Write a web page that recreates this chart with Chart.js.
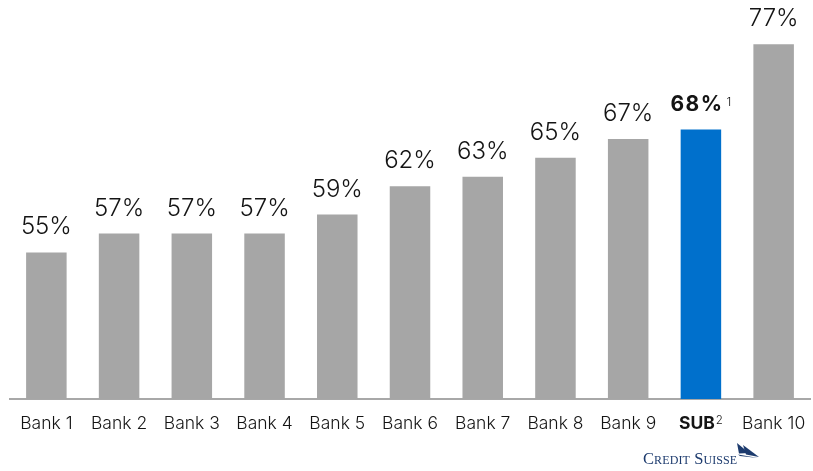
<!DOCTYPE html>
<html>
<head>
<meta charset="utf-8">
<script src="https://cdn.jsdelivr.net/npm/chart.js@4/dist/chart.umd.min.js"></script>
<style>
  html, body { margin: 0; padding: 0; background: #ffffff; }
  #wrap { position: relative; width: 813px; height: 471px; }
  #chart { position: absolute; left: 0; top: 0; }
  #brand { position: absolute; left: 643px; top: 443px; height: 26px; color: #1d3b6e;
           font-family: "Liberation Serif", "DejaVu Serif", serif; font-variant: small-caps;
           font-size: 16.5px; letter-spacing: 0.1px; white-space: nowrap; }
  #brand span { position: absolute; left: 0; top: 7px; line-height: 18px; }
  #brand svg { position: absolute; left: 92px; top: 0; }
</style>
</head>
<body>
<div id="wrap">
  <canvas id="chart" width="813" height="471"></canvas>
  <div id="brand">
    <span>Credit Suisse</span>
    <svg width="26" height="18" viewBox="0 0 26 18">
      <path d="M2 0 L14 10 L4 10.5 Z" fill="#1d3b6e"/>
      <path d="M8 2 L24 14 L11 11.5 Z" fill="#1d3b6e"/>
      <path d="M3 11.5 L23 15 L5 13 Z" fill="#1d3b6e"/>
    </svg>
  </div>
</div>
<script>
// Cost/income ratio by bank
const categories = ['Bank 1', 'Bank 2', 'Bank 3', 'Bank 4', 'Bank 5', 'Bank 6', 'Bank 7', 'Bank 8', 'Bank 9', 'SUB', 'Bank 10'];
const ratios = [55, 57, 57, 57, 59, 62, 63, 65, 67, 68, 77];
const valueNotes = ['', '', '', '', '', '', '', '', '', '1', ''];
const categoryNotes = ['', '', '', '', '', '', '', '', '', '2', ''];
const highlightIndex = 9;

const GREY = '#a6a6a6';
const BLUE = '#0070cc';
const TEXT = '#141414';
const FONT = 'Inter, "Liberation Sans", Arial, sans-serif';

// Draws the percentage above each bar and the category names under the axis,
// with bold text and footnote superscripts for the highlighted bank.
const barText = {
  id: 'barText',
  afterDatasetsDraw(chart) {
    const ctx = chart.ctx;
    const meta = chart.getDatasetMeta(0);
    const xScale = chart.scales.x;
    ctx.save();
    ctx.fillStyle = TEXT;
    ctx.textBaseline = 'alphabetic';
    ctx.textAlign = 'left';
    meta.data.forEach((bar, i) => {
      const hl = i === highlightIndex;
      const main = ratios[i] + '%';
      const mainFont = hl ? '700 21px ' + FONT : '300 24px ' + FONT;
      const spacing = hl ? '1.5px' : '0px';
      const noteFont = '300 12px ' + FONT;
      ctx.letterSpacing = spacing;
      ctx.font = mainFont;
      const wMain = ctx.measureText(main).width;
      ctx.letterSpacing = '0px';
      let wNote = 0;
      if (valueNotes[i]) { ctx.font = noteFont; wNote = ctx.measureText(valueNotes[i]).width + 3; }
      const left = bar.x - (wMain + wNote) / 2;
      const base = bar.y - 18;
      ctx.letterSpacing = spacing;
      ctx.font = mainFont;
      ctx.fillText(main, left, base);
      ctx.letterSpacing = '0px';
      if (valueNotes[i]) {
        ctx.font = noteFont;
        ctx.fillText(valueNotes[i], left + wMain + 3, base - 5.5);
      }

      // category label
      const cx = xScale.getPixelForValue(i);
      const cy = 428.5;
      const catFont = hl ? '700 17.5px ' + FONT : '300 17.5px ' + FONT;
      ctx.font = catFont;
      const wCat = ctx.measureText(categories[i]).width;
      let wCatNote = 0;
      if (categoryNotes[i]) { ctx.font = '300 11.5px ' + FONT; wCatNote = ctx.measureText(categoryNotes[i]).width + 1; }
      const cl = cx - (wCat + wCatNote) / 2;
      ctx.font = catFont;
      ctx.fillText(categories[i], cl, cy);
      if (categoryNotes[i]) {
        ctx.font = '300 11.5px ' + FONT;
        ctx.fillText(categoryNotes[i], cl + wCat + 1, cy - 5);
      }
    });
    ctx.restore();
  }
};

new Chart(document.getElementById('chart'), {
  type: 'bar',
  data: {
    labels: categories,
    datasets: [{
      data: ratios,
      backgroundColor: ratios.map((_, i) => i === highlightIndex ? BLUE : GREY),
      borderWidth: 0,
      categoryPercentage: 1,
      barPercentage: 0.557
    }]
  },
  options: {
    responsive: false,
    animation: false,
    devicePixelRatio: 1,
    layout: { padding: { left: 10, right: 3, top: 16, bottom: 0 } },
    plugins: { legend: { display: false }, tooltip: { enabled: false } },
    scales: {
      x: {
        grid: { display: false, drawTicks: false },
        border: { display: true, color: '#a8a8a8', width: 2 },
        ticks: { display: false },
        afterFit(scale) { scale.height = 72; }
      },
      y: {
        display: false,
        min: 39.5,
        max: 80
      }
    }
  },
  plugins: [barText]
});
</script>
</body>
</html>
